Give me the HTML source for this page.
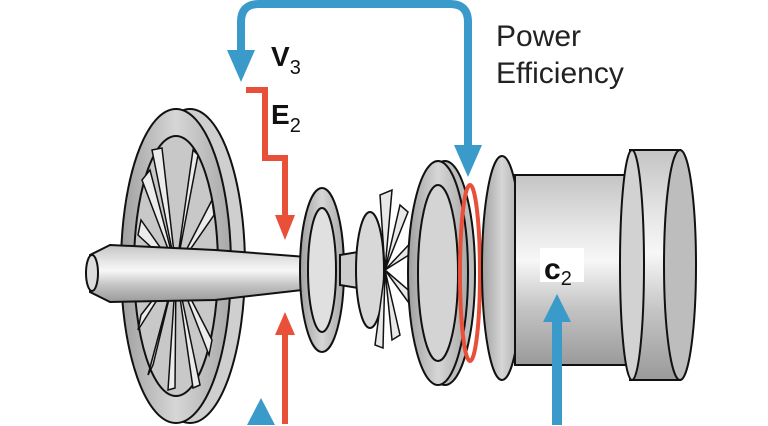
<!DOCTYPE html>
<html><head><meta charset="utf-8"><style>
html,body{margin:0;padding:0;background:#fff;width:768px;height:426px;overflow:hidden;}
svg{display:block;}
text{font-family:"Liberation Sans",sans-serif;}
</style></head><body>
<svg width="768" height="426" viewBox="0 0 768 426" xmlns="http://www.w3.org/2000/svg">
<defs>
<linearGradient id="cyl" x1="0" y1="0" x2="0" y2="1">
<stop offset="0" stop-color="#c4c4c4"/><stop offset="0.3" stop-color="#e8e8e8"/><stop offset="0.45" stop-color="#f7f7f7"/><stop offset="0.7" stop-color="#c4c4c4"/><stop offset="1" stop-color="#9a9a9a"/>
</linearGradient>
<linearGradient id="disc" x1="0" y1="0" x2="1" y2="0">
<stop offset="0" stop-color="#a0a0a0"/><stop offset="0.5" stop-color="#d6d6d6"/><stop offset="1" stop-color="#a8a8a8"/>
</linearGradient>
</defs>
<g stroke="#111" stroke-width="2">
<ellipse cx="190" cy="266" rx="55" ry="157" fill="#cfcfcf"/>
<ellipse cx="176" cy="266" rx="55" ry="157" fill="url(#disc)"/>
<ellipse cx="176" cy="266" rx="42" ry="130" fill="#c8c8c8"/>
<g stroke-width="1.5" fill="#ececec">
<path d="M176 270 L152 150 L162 148 Z"/><path d="M176 270 L142 180 L150 170 Z"/>
<path d="M176 270 L138 235 L141 220 Z"/><path d="M176 270 L138 330 L141 315 Z"/>
<path d="M176 270 L148 375 L153 365 Z"/><path d="M176 270 L168 390 L175 388 Z"/>
<path d="M176 270 L200 385 L193 388 Z"/><path d="M176 270 L212 340 L209 355 Z"/>
<path d="M176 270 L214 215 L212 200 Z"/><path d="M176 270 L198 155 L193 150 Z"/>
</g>
<path d="M90 255 L110 245 L215 250 L320 258 L320 288 L215 300 L110 302 L90 292 Z" fill="url(#cyl)"/>
<ellipse cx="92" cy="273" rx="6" ry="18" fill="#ddd"/>
<ellipse cx="322" cy="270" rx="22" ry="82" fill="url(#disc)"/>
<ellipse cx="322" cy="270" rx="14" ry="62" fill="#e0e0e0"/>
<path d="M340 255 L370 250 L370 290 L340 285 Z" fill="#ccc"/>
<ellipse cx="370" cy="270" rx="14" ry="58" fill="#d8d8d8"/>
<g stroke-width="1.5" fill="#e8e8e8">
<path d="M385 270 L380 195 L392 190 Z"/><path d="M385 270 L400 205 L408 212 Z"/>
<path d="M385 270 L418 235 L420 248 Z"/><path d="M385 270 L420 300 L414 310 Z"/>
<path d="M385 270 L400 335 L392 340 Z"/><path d="M385 270 L375 345 L383 348 Z"/>
</g>
<ellipse cx="445" cy="273" rx="30" ry="112" fill="#bdbdbd"/>
<ellipse cx="438" cy="273" rx="30" ry="112" fill="url(#disc)"/>
<ellipse cx="438" cy="273" rx="20" ry="88" fill="#d4d4d4"/>
<ellipse cx="470" cy="273" rx="10" ry="88" fill="none" stroke="#e8503a" stroke-width="4"/>
<ellipse cx="502" cy="268" rx="20" ry="112" fill="url(#disc)"/>
<path d="M515 175 L640 175 L640 365 L515 365 Z" fill="url(#cyl)"/>
<path d="M630 150 L680 150 L680 380 L630 380 Z" fill="url(#cyl)"/>
<ellipse cx="680" cy="265" rx="16" ry="115" fill="#bdbdbd"/>
<ellipse cx="632" cy="265" rx="12" ry="115" fill="#d2d2d2"/>
</g>
<path d="M241 60 L241 22 Q241 4 259 4 L450 4 Q468 4 468 22 L468 155" fill="none" stroke="#3a9ac9" stroke-width="8"/>
<polygon points="227,50 255,50 241,82" fill="#3a9ac9"/>
<polygon points="454,145 482,145 468,177" fill="#3a9ac9"/>
<path d="M246 90 L265 90 L265 158 L285 158 L285 220" fill="none" stroke="#e8503a" stroke-width="6"/>
<polygon points="275,215 295,215 285,240" fill="#e8503a"/>
<path d="M285 424 L285 330" fill="none" stroke="#e8503a" stroke-width="6"/>
<polygon points="275,335 295,335 285,312" fill="#e8503a"/>
<polygon points="247,425 275,425 261,398" fill="#3a9ac9"/>
<path d="M557 425 L557 320" stroke="#3a9ac9" stroke-width="10"/>
<polygon points="543,322 571,322 557,294" fill="#3a9ac9"/>
<rect x="540" y="248" width="44" height="34" fill="#fff"/>
<text x="544" y="279" font-size="30" font-weight="bold" fill="#111">c<tspan font-size="20" font-weight="normal" dy="6">2</tspan></text>
<text x="271" y="66" font-size="28" font-weight="bold" fill="#111">V<tspan font-size="20" font-weight="normal" dy="8">3</tspan></text>
<text x="271" y="124" font-size="28" font-weight="bold" fill="#111">E<tspan font-size="20" font-weight="normal" dy="8">2</tspan></text>
<text x="496" y="46" font-size="30" fill="#222">Power</text>
<text x="496" y="83" font-size="30" fill="#222">Efficiency</text>
</svg>
</body></html>
